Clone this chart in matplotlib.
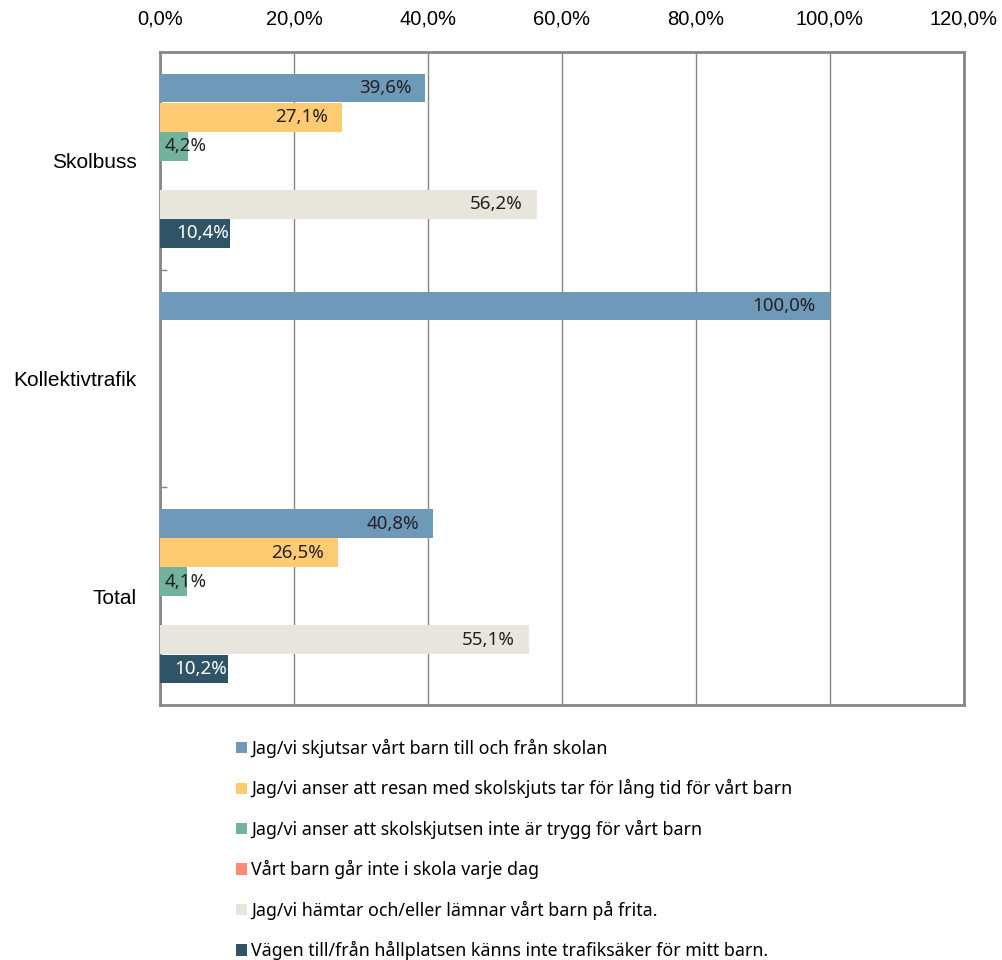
import numpy as np
import matplotlib
matplotlib.use("Agg")
import matplotlib.pyplot as plt
from matplotlib.patches import Patch
from matplotlib.ticker import FuncFormatter, FixedLocator

CATEGORIES = ["Skolbuss", "Kollektivtrafik", "Total"]
SERIES = [
    "Jag/vi skjutsar vårt barn till och från skolan",
    "Jag/vi anser att resan med skolskjuts tar för lång tid för vårt barn",
    "Jag/vi anser att skolskjutsen inte är trygg för vårt barn",
    "Vårt barn går inte i skola varje dag",
    "Jag/vi hämtar och/eller lämnar vårt barn på frita.",
    "Vägen till/från hållplatsen känns inte trafiksäker för mitt barn.",
]
# values in percent per series, per category (None = no bar)
SKJUTSAR = [39.6, 100.0, 40.8]
LANG_TID = [27.1, None, 26.5]
TRYGG = [4.2, None, 4.1]
INTE_VARJE_DAG = [None, None, None]
FRITA = [56.2, None, 55.1]
VAGEN = [10.4, None, 10.2]
VALUES = [SKJUTSAR, LANG_TID, TRYGG, INTE_VARJE_DAG, FRITA, VAGEN]
COLORS = ["#6E99B9", "#FFCB72", "#72B39E", "#FF8A72", "#E8E5DD", "#2F5468"]
TEXT_COLORS = ["#222222", "#222222", "#222222", "#222222", "#222222", "#FFFFFF"]

fig = plt.figure(figsize=(10.03, 9.6), dpi=100)
ax = fig.add_axes([160 / 1003, 1 - 705 / 960, 804 / 1003, 653 / 960])

n = len(SERIES)
gap = 0.1
bh = (1 - 2 * gap) / n
for i, (vals, col, tcol) in enumerate(zip(VALUES, COLORS, TEXT_COLORS)):
    for c, v in enumerate(vals):
        if v is None:
            continue
        y = c - 0.5 + gap + bh * (i + 0.5)
        ax.barh(y, v, height=bh * 0.98, color=col, zorder=3)
        lab = f"{v:.1f}%".replace(".", ",")
        if v < 8:
            ax.annotate(lab, (0, y), xytext=(5, 0), textcoords="offset pixels",
                        ha="left", va="center", fontsize=13.5, color="#222222",
                        family="Noto Sans", zorder=4)
        else:
            ax.annotate(lab, (v, y), xytext=(-14 if v > 20 else -1, 0),
                        textcoords="offset pixels", ha="right", va="center",
                        fontsize=13.5, color=tcol, family="Noto Sans", zorder=4)

ax.set_xlim(0, 120)
ax.set_ylim(2.5, -0.5)
ax.set_xticks(np.arange(0, 121, 20))
ax.xaxis.set_major_formatter(FuncFormatter(lambda x, p: f"{x:.1f}%".replace(".", ",")))
ax.xaxis.tick_top()
ax.tick_params(axis="x", length=0, pad=17, labelsize=14.5)
ax.set_yticks(range(len(CATEGORIES)))
ax.set_yticklabels(CATEGORIES)
ax.yaxis.set_minor_locator(FixedLocator([0.5, 1.5]))
ax.tick_params(axis="y", which="major", length=0, pad=17, labelsize=15)
ax.tick_params(axis="y", which="minor", length=5, width=1, direction="in", color="#868686")
for lab in ax.get_xticklabels() + ax.get_yticklabels():
    lab.set_family("Liberation Sans")
ax.grid(axis="x", color="#868686", lw=1, zorder=1)
for s in ax.spines.values():
    s.set_color("#868686")
    s.set_linewidth(2)

handles = [Patch(facecolor=c, edgecolor="none") for c in COLORS]
fig.legend(handles, SERIES, loc="upper left", bbox_to_anchor=(236 / 1003, 1 - 739 / 960),
           frameon=False, handlelength=0.6, handleheight=0.6, handletextpad=0.25,
           labelspacing=1.2, borderpad=0, borderaxespad=0,
           prop={"family": "Noto Sans", "size": 12.8})

fig.savefig("out.png", dpi=100)
